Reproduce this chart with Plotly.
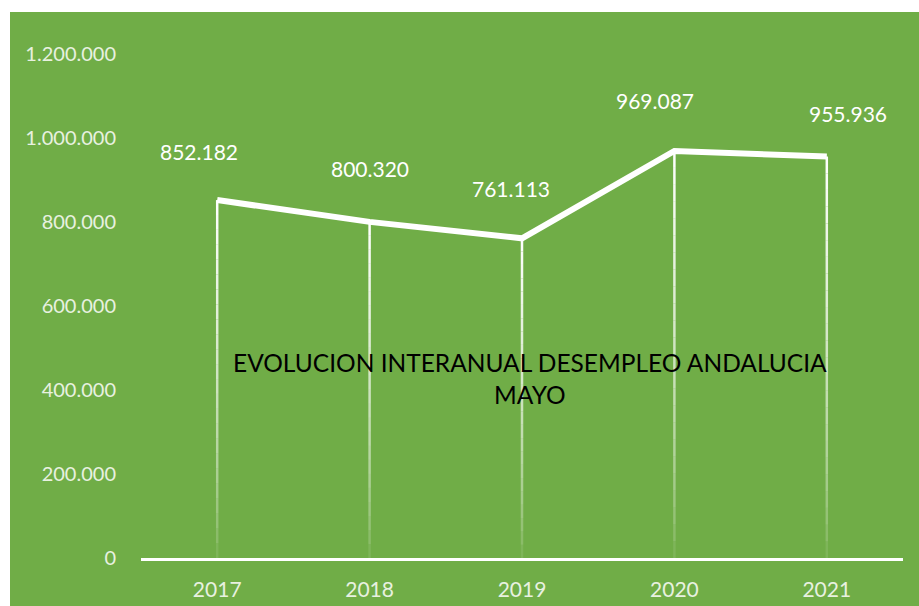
import plotly.graph_objects as go

years = ["2017", "2018", "2019", "2020", "2021"]
values = [852182, 800320, 761113, 969087, 955936]
value_labels = ["852.182", "800.320", "761.113", "969.087", "955.936"]
y_ticks = [0, 200000, 400000, 600000, 800000, 1000000, 1200000]
y_tick_labels = ["0", "200.000", "400.000", "600.000", "800.000", "1.000.000", "1.200.000"]
title_text = "EVOLUCION INTERANUAL DESEMPLEO ANDALUCIA<br>MAYO"

GREEN = "#70AD47"
FONT = "Lato"

fig = go.Figure()

# gradient drop lines (white at the top, fading toward the axis)
N = 24
for k in range(N):
    f0 = k / N
    f1 = (k + 1) / N
    alpha = ((f0 + f1) / 2) ** 0.6
    xs, ys = [], []
    for yr, v in zip(years, values):
        xs += [yr, yr, None]
        ys += [v * f0, v * f1, None]
    fig.add_trace(go.Scatter(
        x=xs, y=ys, mode="lines",
        line=dict(color=f"rgba(255,255,255,{alpha:.3f})", width=2.5),
        hoverinfo="skip", showlegend=False,
    ))

fig.add_trace(go.Scatter(
    x=years, y=values, mode="lines",
    line=dict(color="white", width=6),
    showlegend=False,
))

# category positions (serial index) for annotations
xshifts = [-18, 0, -11, -19, 21]
yshifts = [49, 53, 50, 50, 43]
for i, (v, lab, dx, dy) in enumerate(zip(values, value_labels, xshifts, yshifts)):
    fig.add_annotation(
        x=i, y=v, xref="x", yref="y", text=lab, showarrow=False,
        xshift=dx, yshift=dy, yanchor="middle",
        font=dict(family=FONT, size=21, color="white"),
    )

fig.add_annotation(
    xref="paper", yref="paper", x=0.5105, y=0.357,
    text=title_text, showarrow=False, align="center",
    xanchor="center", yanchor="middle",
    font=dict(family=FONT, size=24.5, color="black"),
)

# white strips (page margin around the green chart area)
fig.add_shape(type="rect", xref="paper", yref="paper",
              x0=-0.3, x1=(10 - 141) / 762, y0=-0.2, y1=1.2,
              fillcolor="white", line_width=0, layer="above")
fig.add_shape(type="rect", xref="paper", yref="paper",
              x0=-0.3, x1=1.1, y0=(558 - 12) / 504, y1=1.2,
              fillcolor="white", line_width=0, layer="above")

fig.update_layout(
    width=919, height=606, autosize=False,
    margin=dict(l=141, r=16, t=54, b=48, pad=0, autoexpand=False),
    paper_bgcolor=GREEN, plot_bgcolor=GREEN,
    separators=",.",
    showlegend=False,
    xaxis=dict(
        type="category", range=[-0.5, 4.5], automargin=False,
        showgrid=False, zeroline=False,
        showline=True, linecolor="white", linewidth=2.5,
        ticks="", ticklabelstandoff=11,
        tickfont=dict(family=FONT, size=21, color="#E8F1E0"),
    ),
    yaxis=dict(
        range=[0, 1200000], tickvals=y_ticks, ticktext=y_tick_labels,
        automargin=False,
        showgrid=False, zeroline=False, showline=False,
        ticks="", ticklabelstandoff=24,
        tickfont=dict(family=FONT, size=20, color="#E8F1E0"),
    ),
)

fig.write_html("out.html", config={"displayModeBar": False},
               post_script="document.body.style.margin='0';")
